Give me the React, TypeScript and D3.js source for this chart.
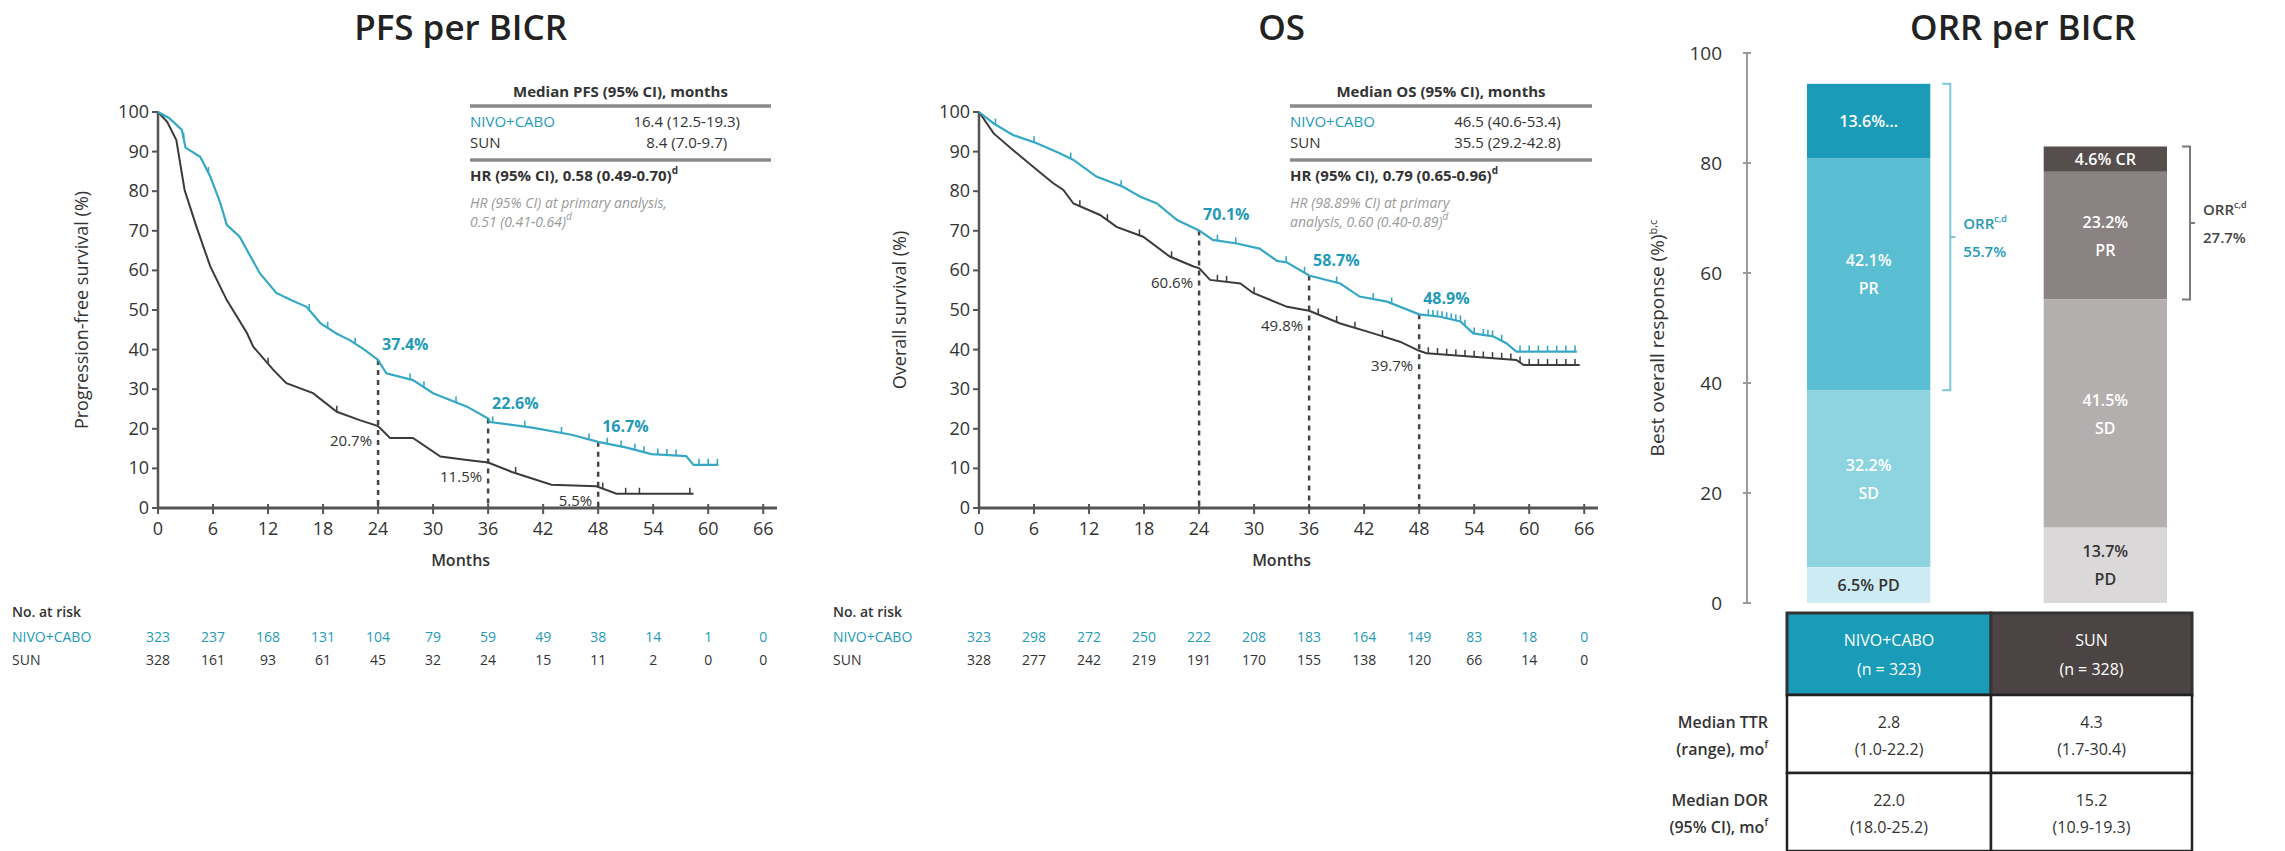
import React from 'react';
import * as d3 from 'd3';

// ---------------- DATA ----------------
const monthTicks = [0, 6, 12, 18, 24, 30, 36, 42, 48, 54, 60, 66];
const survTicks = [0, 10, 20, 30, 40, 50, 60, 70, 80, 90, 100];
const landmarkMonths = [24, 36, 48];

// PFS per BICR
const pfsNivoT = [0, 1.2, 2.6, 3.0, 4.6, 5.7, 6.8, 7.5, 8.9, 11.1, 12.9, 14.5, 16.2, 17.7, 19.5, 20.9, 22.5, 24, 24.9, 27.8, 30, 33.7, 36, 36.2, 40.8, 45.1, 48, 51, 53.8, 57.6, 58.4, 61.1];
const pfsNivoS = [100, 98.5, 95.5, 91, 88.7, 83.7, 77, 71.5, 68.5, 59.3, 54.3, 52.5, 50.8, 46.7, 44, 42.4, 40, 37.4, 34, 32.3, 29, 25.6, 22.6, 21.7, 20.3, 18.5, 16.7, 15.3, 13.6, 13.1, 10.9, 10.9];
const pfsSunT = [0, 1, 2.0, 2.9, 4.2, 5.7, 7.5, 9.7, 10.4, 12.6, 14.0, 16.9, 19.5, 22, 24, 25.3, 27.8, 30.8, 33.7, 36, 38.6, 42.9, 47.8, 50, 58.4];
const pfsSunS = [100, 97.5, 92.9, 80.3, 71, 61, 52.5, 44.2, 40.7, 34.8, 31.5, 29, 24.3, 22.2, 20.7, 17.7, 17.7, 13, 12.1, 11.5, 9.1, 5.9, 5.5, 3.6, 3.6];
const pfsNivoCensor = [2.8, 5.5, 16.5, 18.5, 21.5, 27.5, 29, 32.5, 36.5, 40, 44, 47, 49, 50.5, 52, 53, 54.5, 55.5, 56.5, 59, 60, 61];
const pfsSunCensor = [12, 19.5, 39, 48.5, 51, 52.5, 58];
const pfsNivoLandmark = [37.4, 22.6, 16.7];
const pfsSunLandmark = [20.7, 11.5, 5.5];
const pfsRiskNivo = [323, 237, 168, 131, 104, 79, 59, 49, 38, 14, 1, 0];
const pfsRiskSun = [328, 161, 93, 61, 45, 32, 24, 15, 11, 2, 0, 0];

// OS
const osNivoT = [0, 1.6, 3.7, 6.3, 8.8, 10.3, 12.8, 15.7, 17.6, 19.4, 21.6, 24, 25.5, 28.1, 30.6, 32.5, 33.6, 36, 39.4, 41.5, 44.5, 48, 50.3, 52.5, 53.9, 56.1, 57.5, 58.6, 65.2];
const osNivoS = [100, 97.1, 94.2, 92.1, 89.6, 87.9, 83.7, 81.1, 78.6, 76.9, 72.7, 70.1, 67.7, 66.8, 65.5, 62.4, 62.0, 58.7, 56.7, 53.4, 52.1, 48.9, 48.3, 47.1, 44.1, 43.3, 41.6, 39.5, 39.5];
const osSunT = [0, 1.6, 3.7, 6.3, 8.1, 9.2, 10.3, 13.2, 15.0, 17.9, 20.8, 23.4, 24, 25.2, 28.5, 29.9, 33.6, 36, 39.4, 43, 45.9, 48, 48.8, 53.9, 58.6, 59.4, 65.5];
const osSunS = [100, 94.6, 90.4, 85.4, 82, 80.3, 76.9, 74, 71, 68.5, 63.5, 61, 60.6, 57.6, 56.7, 54.3, 50.8, 49.8, 46.6, 44.1, 42, 39.7, 39.1, 38.2, 37.4, 36.1, 36.1];
const osNivoCensor = [1.8, 6, 10, 15.5, 26, 28, 33.5, 35.5, 39, 43, 45, 49, 49.5, 50, 50.5, 51, 51.5, 52, 52.5, 53, 54, 55, 55.5, 56, 57, 59, 60, 61, 62, 63, 64, 65];
const osSunCensor = [11, 14, 17.5, 21, 26, 27, 30, 37, 39, 41, 44, 49, 50, 51, 52, 53, 54, 55, 56, 57, 58, 59, 60, 61, 62, 63, 64, 65];
const osNivoLandmark = [70.1, 58.7, 48.9];
const osSunLandmark = [60.6, 49.8, 39.7];
const osRiskNivo = [323, 298, 272, 250, 222, 208, 183, 164, 149, 83, 18, 0];
const osRiskSun = [328, 277, 242, 219, 191, 170, 155, 138, 120, 66, 14, 0];

// ORR per BICR
const orrGroups = ['NIVO+CABO', 'SUN'];
const orrCategories = ['CR', 'PR', 'SD', 'PD'];
const orrNivo = [13.6, 42.1, 32.2, 6.5];
const orrSun = [4.6, 23.2, 41.5, 13.7];
const orrNivoLabels = [['13.6%…'], ['42.1%', 'PR'], ['32.2%', 'SD'], ['6.5% PD']];
const orrSunLabels = [['4.6% CR'], ['23.2%', 'PR'], ['41.5%', 'SD'], ['13.7%', 'PD']];
const orrTotals = ['55.7%', '27.7%'];
const orrTicks = [0, 20, 40, 60, 80, 100];

const tableHeaders = [['NIVO+CABO', '(n = 323)'], ['SUN', '(n = 328)']];
const tableRowLabels = [['Median TTR', '(range), mo'], ['Median DOR', '(95% CI), mo']];
const tableValues = [
  [['2.8', '(1.0-22.2)'], ['4.3', '(1.7-30.4)']],
  [['22.0', '(18.0-25.2)'], ['15.2', '(10.9-19.3)']],
];

// ---------------- STYLE ----------------
const FONT = '"Open Sans", "Noto Sans", sans-serif';
const TEAL = '#36a8c4';
const TEAL_TEXT = '#1f9ab7';
const DARK = '#3b3b3b';
const AXIS = '#555';
const nivoColors = ['#1b9bb8', '#59bed2', '#8dd3e0', '#cdebf2'];
const sunColors = ['#564d4d', '#8b8383', '#b4afaf', '#dad8d8'];

const plotTop = 112;
const plotBottom = 508;
const pxPerMonth = 9.17;

function survAt(ts: number[], ss: number[], t: number) {
  let i = d3.bisectRight(ts, t) - 1;
  if (i < 0) i = 0;
  if (i >= ts.length - 1) return ss[ss.length - 1];
  const f = (t - ts[i]) / (ts[i + 1] - ts[i]);
  return ss[i] + f * (ss[i + 1] - ss[i]);
}

function Sup({ children, size = 10 }: any) {
  return <tspan dy={-7} fontSize={size}>{children}</tspan>;
}

function KMPanel(p: any) {
  const x = d3.scaleLinear().domain([0, 66]).range([p.left, p.left + 66 * pxPerMonth]);
  const y = d3.scaleLinear().domain([0, 100]).range([plotBottom, plotTop]);
  const line = d3.line<number>().x((_, i) => 0).y(() => 0);
  const path = (ts: number[], ss: number[]) =>
    d3.line<number>().x((t) => x(t)).y((_, i) => y(ss[i]))(ts) as string;
  void line;
  const tl = p.tableLeft;
  const tr = p.tableRight;
  const midV = tl + (tr - tl) * 0.72;
  return (
    <g fontFamily={FONT}>
      <text x={(x(0) + x(66)) / 2} y={40} textAnchor="middle" fontSize={35} fontWeight={600} fill="#222">{p.title}</text>
      {/* y axis */}
      <line x1={x(0)} x2={x(0)} y1={y(0)} y2={y(100)} stroke={AXIS} strokeWidth={2.5} />
      {survTicks.map((t) => (
        <g key={t}>
          <line x1={x(0) - 6} x2={x(0)} y1={y(t)} y2={y(t)} stroke={AXIS} strokeWidth={2} />
          <text x={x(0) - 9} y={y(t) + 6} textAnchor="end" fontSize={18} fill="#333">{t}</text>
        </g>
      ))}
      <text transform={`translate(${p.yTitleX},${(y(0) + y(100)) / 2}) rotate(-90)`} textAnchor="middle" fontSize={18} fill="#333">{p.yTitle}</text>
      {/* x axis */}
      <line x1={x(0)} x2={x(67.5)} y1={y(0)} y2={y(0)} stroke={AXIS} strokeWidth={3} />
      {monthTicks.map((m) => (
        <g key={m}>
          <line x1={x(m)} x2={x(m)} y1={y(0) - 4} y2={y(0) + 6} stroke={AXIS} strokeWidth={2} />
          <text x={x(m)} y={y(0) + 27} textAnchor="middle" fontSize={18} fill="#333">{m}</text>
        </g>
      ))}
      <text x={(x(0) + x(66)) / 2} y={y(0) + 58} textAnchor="middle" fontSize={16} fontWeight={600} fill="#333">Months</text>
      {/* landmark dashed lines */}
      {landmarkMonths.map((m, i) => (
        <line key={m} x1={x(m)} x2={x(m)} y1={y(p.nivoL[i])} y2={y(0)} stroke="#444" strokeWidth={2.5} strokeDasharray="5,5" />
      ))}
      {/* curves */}
      <path d={path(p.sunT, p.sunS)} fill="none" stroke={DARK} strokeWidth={2} />
      <path d={path(p.nivoT, p.nivoS)} fill="none" stroke={TEAL} strokeWidth={2.2} />
      {p.sunC.map((c: number, i: number) => (
        <line key={'sc' + i} x1={x(c)} x2={x(c)} y1={y(survAt(p.sunT, p.sunS, c)) - 6} y2={y(survAt(p.sunT, p.sunS, c))} stroke={DARK} strokeWidth={1.5} />
      ))}
      {p.nivoC.map((c: number, i: number) => (
        <line key={'nc' + i} x1={x(c)} x2={x(c)} y1={y(survAt(p.nivoT, p.nivoS, c)) - 6} y2={y(survAt(p.nivoT, p.nivoS, c))} stroke={TEAL} strokeWidth={1.6} />
      ))}
      {/* landmark labels */}
      {landmarkMonths.map((m, i) => (
        <g key={'lab' + m}>
          <text x={x(m) + 4} y={y(p.nivoL[i]) - 10} fontSize={16} fontWeight={700} fill={TEAL_TEXT}>{p.nivoL[i].toFixed(1)}%</text>
          <text x={x(m) - 6} y={y(p.sunL[i]) + 20} textAnchor="end" fontSize={15} fill="#333">{p.sunL[i].toFixed(1)}%</text>
        </g>
      ))}
      {/* median table */}
      <g fontSize={15}>
        <text x={(tl + tr) / 2} y={97} textAnchor="middle" fontWeight={700} fill="#333">{p.medHeader}</text>
        <line x1={tl} x2={tr} y1={106} y2={106} stroke="#8a8a8a" strokeWidth={3.5} />
        <text x={tl} y={127} fill={TEAL_TEXT}>NIVO+CABO</text>
        <text x={midV} y={127} textAnchor="middle" fill="#333">{p.medNivo}</text>
        <text x={tl} y={148} fill="#333">SUN</text>
        <text x={midV} y={148} textAnchor="middle" fill="#333">{p.medSun}</text>
        <line x1={tl} x2={tr} y1={160} y2={160} stroke="#8a8a8a" strokeWidth={3.5} />
        <text x={tl} y={181} fontWeight={700} fill="#333">{p.hrMain}<Sup>d</Sup></text>
        <text x={tl} y={208} fontStyle="italic" fill="#9a9a9a" fontSize={14}>{p.hrPrim1}</text>
        <text x={tl} y={227} fontStyle="italic" fill="#9a9a9a" fontSize={14}>{p.hrPrim2}<Sup>d</Sup></text>
      </g>
      {/* risk table */}
      <g fontSize={14}>
        <text x={p.riskLabelX} y={617} fontWeight={600} fill="#333">No. at risk</text>
        <text x={p.riskLabelX} y={642} fill={TEAL_TEXT}>NIVO+CABO</text>
        <text x={p.riskLabelX} y={665} fill="#333">SUN</text>
        {monthTicks.map((m, i) => (
          <g key={'r' + m}>
            <text x={x(m)} y={642} textAnchor="middle" fill={TEAL_TEXT}>{p.riskNivo[i]}</text>
            <text x={x(m)} y={665} textAnchor="middle" fill="#333">{p.riskSun[i]}</text>
          </g>
        ))}
      </g>
    </g>
  );
}

function ORRPanel() {
  const y = d3.scaleLinear().domain([0, 100]).range([603, 53]);
  const xb = d3.scaleBand<string>().domain(orrGroups).range([1807, 2167]).paddingInner(0.479).paddingOuter(0);
  const bw = xb.bandwidth();
  const axisX = 1747;
  const groups = [
    { name: orrGroups[0], vals: orrNivo, colors: nivoColors, labels: orrNivoLabels },
    { name: orrGroups[1], vals: orrSun, colors: sunColors, labels: orrSunLabels },
  ];
  const stacks = groups.map((g) => {
    // stack bottom-up: PD, SD, PR, CR
    const order = [3, 2, 1, 0];
    let acc = 0;
    const segs: any[] = [];
    order.forEach((k) => {
      segs[k] = { y0: acc, y1: acc + g.vals[k] };
      acc += g.vals[k];
    });
    return segs;
  });
  const colL = [1787, 1991];
  const colR = [1991, 2192];
  const rowY = [613, 695, 773, 851];
  return (
    <g fontFamily={FONT}>
      <text x={2023} y={40} textAnchor="middle" fontSize={35} fontWeight={600} fill="#222">ORR per BICR</text>
      <line x1={axisX} x2={axisX} y1={y(0)} y2={y(100)} stroke="#9a9a9a" strokeWidth={2} />
      {orrTicks.map((t) => (
        <g key={t}>
          <line x1={axisX - 4} x2={axisX + 4} y1={y(t)} y2={y(t)} stroke="#9a9a9a" strokeWidth={2} />
          <text x={1722} y={y(t) + 7} textAnchor="end" fontSize={19} fill="#333">{t}</text>
        </g>
      ))}
      <text transform={`translate(1664,${(y(0) + y(100)) / 2 + 10}) rotate(-90)`} textAnchor="middle" fontSize={19} fill="#333">Best overall response (%)<Sup size={11}>b,c</Sup></text>
      {groups.map((g, gi) => (
        <g key={g.name}>
          {orrCategories.map((c, k) => {
            const s = stacks[gi][k];
            const yTop = y(s.y1);
            const yBot = y(s.y0);
            const cy = (yTop + yBot) / 2;
            const lines = g.labels[k];
            const fill = k === 3 ? '#333' : '#fff';
            return (
              <g key={c}>
                <rect x={xb(g.name)} y={yTop} width={bw} height={yBot - yTop} fill={g.colors[k]} />
                {lines.map((t: string, li: number) => (
                  <text key={li} x={(xb(g.name) as number) + bw / 2} y={cy + 6 + (li - (lines.length - 1) / 2) * 28} textAnchor="middle" fontSize={16} fontWeight={600} fill={fill}>{t}</text>
                ))}
              </g>
            );
          })}
        </g>
      ))}
      {/* brackets */}
      {groups.map((g, gi) => {
        const s = stacks[gi];
        const top = y(s[0].y1);
        const bot = y(s[1].y0);
        const bx = (xb(g.name) as number) + bw + (gi === 0 ? 20 : 23);
        const col = gi === 0 ? '#7cc6d7' : '#7a7a7a';
        const mid = (top + bot) / 2;
        return (
          <g key={'br' + gi}>
            <path d={`M${bx - 8},${top} H${bx} V${bot} H${bx - 8} M${bx},${mid} H${bx + 5}`} fill="none" stroke={col} strokeWidth={2} />
            <text x={bx + 13} y={mid - 8} fontSize={15} fontWeight={600} fill={gi === 0 ? TEAL_TEXT : '#444'}>ORR<Sup size={9}>c,d</Sup></text>
            <text x={bx + 13} y={mid + 20} fontSize={15} fontWeight={600} fill={gi === 0 ? TEAL_TEXT : '#444'}>{orrTotals[gi]}</text>
          </g>
        );
      })}
      {/* table */}
      {tableHeaders.map((h, ci) => (
        <g key={'h' + ci}>
          <rect x={colL[ci]} y={rowY[0]} width={colR[ci] - colL[ci]} height={rowY[1] - rowY[0]} fill={ci === 0 ? '#1a9bb8' : '#4c4444'} stroke="#333" strokeWidth={3} />
          <text x={(colL[ci] + colR[ci]) / 2} y={rowY[0] + 33} textAnchor="middle" fontSize={16} fill="#fff">{h[0]}</text>
          <text x={(colL[ci] + colR[ci]) / 2} y={rowY[0] + 62} textAnchor="middle" fontSize={16} fill="#fff">{h[1]}</text>
        </g>
      ))}
      {tableRowLabels.map((lab, ri) => (
        <g key={'row' + ri}>
          <text x={1768} y={rowY[ri + 1] + 33} textAnchor="end" fontSize={16} fontWeight={600} fill="#333">{lab[0]}</text>
          <text x={1768} y={rowY[ri + 1] + 60} textAnchor="end" fontSize={16} fontWeight={600} fill="#333">{lab[1]}<Sup size={10}>f</Sup></text>
          {tableValues[ri].map((v, ci) => (
            <g key={ci}>
              <rect x={colL[ci]} y={rowY[ri + 1]} width={colR[ci] - colL[ci]} height={rowY[ri + 2] - rowY[ri + 1]} fill="#fff" stroke="#222" strokeWidth={2.5} />
              <text x={(colL[ci] + colR[ci]) / 2} y={rowY[ri + 1] + 33} textAnchor="middle" fontSize={16} fill="#333">{v[0]}</text>
              <text x={(colL[ci] + colR[ci]) / 2} y={rowY[ri + 1] + 60} textAnchor="middle" fontSize={16} fill="#333">{v[1]}</text>
            </g>
          ))}
        </g>
      ))}
    </g>
  );
}

export default function App() {
  return (
    <div style={{ position: 'absolute', left: 0, top: 0, width: 2285, height: 851, background: '#fff' }}>
      <svg width={2285} height={851} viewBox="0 0 2285 851" style={{ display: 'block' }}>
        <rect x={0} y={0} width={2285} height={851} fill="#fff" />
        <KMPanel
          left={158}
          title="PFS per BICR"
          yTitle="Progression-free survival (%)"
          yTitleX={88}
          nivoT={pfsNivoT} nivoS={pfsNivoS} sunT={pfsSunT} sunS={pfsSunS}
          nivoC={pfsNivoCensor} sunC={pfsSunCensor}
          nivoL={pfsNivoLandmark} sunL={pfsSunLandmark}
          medHeader="Median PFS (95% CI), months"
          medNivo="16.4 (12.5-19.3)" medSun="8.4 (7.0-9.7)"
          hrMain="HR (95% CI), 0.58 (0.49-0.70)"
          hrPrim1="HR (95% CI) at primary analysis,"
          hrPrim2="0.51 (0.41-0.64)"
          tableLeft={470} tableRight={771}
          riskNivo={pfsRiskNivo} riskSun={pfsRiskSun}
          riskLabelX={12}
        />
        <KMPanel
          left={979}
          title="OS"
          yTitle="Overall survival (%)"
          yTitleX={906}
          nivoT={osNivoT} nivoS={osNivoS} sunT={osSunT} sunS={osSunS}
          nivoC={osNivoCensor} sunC={osSunCensor}
          nivoL={osNivoLandmark} sunL={osSunLandmark}
          medHeader="Median OS (95% CI), months"
          medNivo="46.5 (40.6-53.4)" medSun="35.5 (29.2-42.8)"
          hrMain="HR (95% CI), 0.79 (0.65-0.96)"
          hrPrim1="HR (98.89% CI) at primary"
          hrPrim2="analysis, 0.60 (0.40-0.89)"
          tableLeft={1290} tableRight={1592}
          riskNivo={osRiskNivo} riskSun={osRiskSun}
          riskLabelX={833}
        />
        <ORRPanel />
      </svg>
    </div>
  );
}
